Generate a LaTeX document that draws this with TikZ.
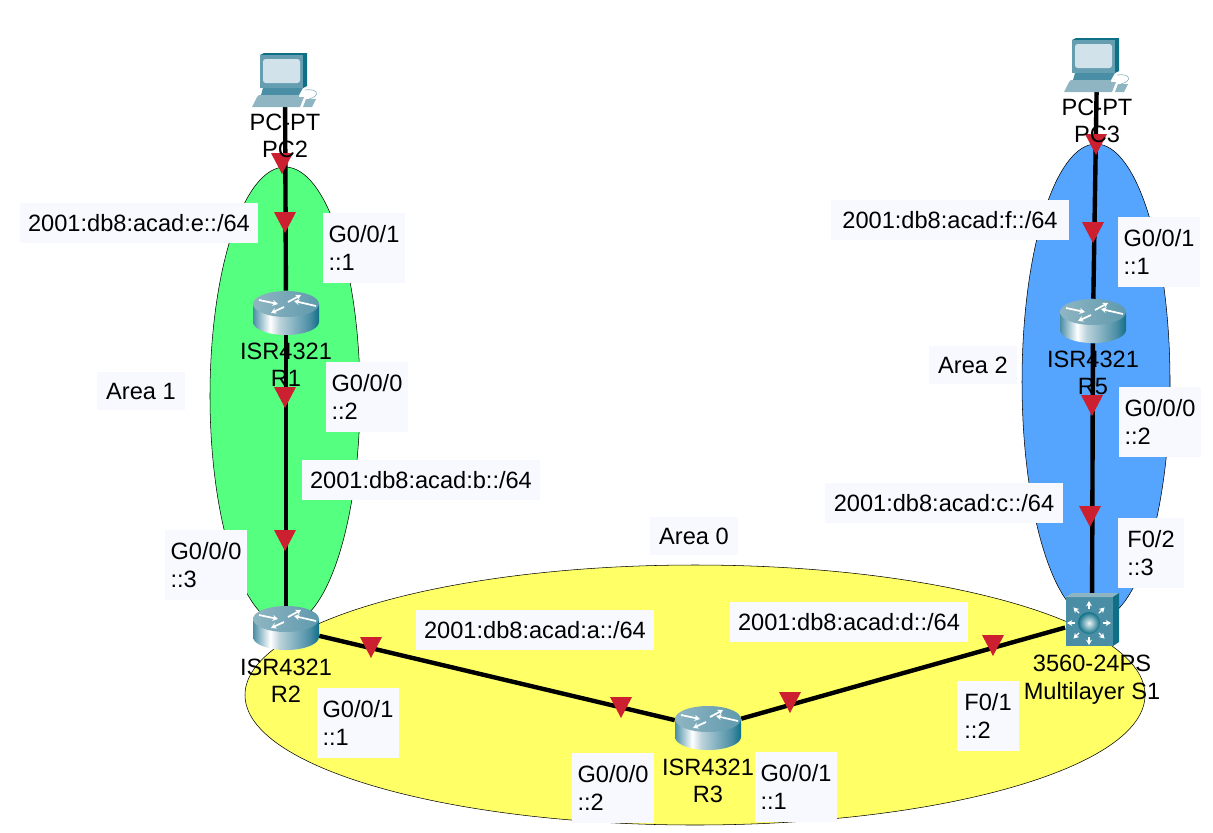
\documentclass[tikz,border=0pt]{standalone}
\usepackage{fontspec}
\setmainfont{Liberation Sans}
\usetikzlibrary{positioning, arrows.meta, backgrounds}
\definecolor{areagreen}{HTML}{55FF80}
\definecolor{areablue}{HTML}{55A5FF}
\definecolor{areayellow}{HTML}{FFFF66}
\definecolor{boxfill}{HTML}{F8F9FF}
\definecolor{pinred}{HTML}{CC2030}
\definecolor{tealdark}{HTML}{0E6F87}
\definecolor{tealmid}{HTML}{4A8EA5}
\definecolor{teallight}{HTML}{8FB5C2}
\definecolor{screenblue}{HTML}{D2E2EA}
\pgfdeclarehorizontalshading{routerbody}{100bp}{color(0bp)=(tealmid); color(25bp)=(tealmid); color(38bp)=(white); color(45bp)=(teallight!60!white); color(68bp)=(tealmid); color(75bp)=(tealdark); color(100bp)=(tealdark)}
\tikzset{
	txt/.style={font=\fontsize{17.7}{20.5}\selectfont, text=black, inner sep=0pt, align=center},
	netbox/.style={txt, fill=boxfill, minimum width=178pt, minimum height=30pt},
	portbox/.style={txt, fill=boxfill, align=left, minimum width=61pt, minimum height=52pt},
	areabox/.style={txt, fill=boxfill, minimum width=66pt, minimum height=29pt},
	devrouter/.style={minimum width=49.5pt, minimum height=33pt, inner sep=0pt},
	devswitch/.style={minimum width=40pt, minimum height=40pt, inner sep=0pt},
	devpc/.style={minimum width=49.5pt, minimum height=40pt, inner sep=0pt},
	link/.style={line width=3.3pt, black},
	whitearrow/.style={white, line width=1.3pt, -{Stealth[length=4pt,width=4.5pt]}},
	routericon/.pic={
		\path[shading=routerbody]
			(-33,-9) -- (-33,9) arc[start angle=180, end angle=0, x radius=33, y radius=13] -- (33,-9) -- cycle;
		\path[left color=teallight, right color=tealmid!70!teallight] (0,-9) ellipse [x radius=33, y radius=13];
		\draw[whitearrow] (-27,-13) -- (-8,-9);
		\draw[whitearrow] (30,-7) -- (8,-12);
		\draw[whitearrow] (2,-11) -- (15,-18);
		\draw[whitearrow] (-2,-6) -- (-15,0);
	},
	switchicon/.pic={
		\fill[tealmid] (-26,-23) rectangle (21,26);
		\fill[teallight] (-26,-23) -- (-20,-27) -- (27,-27) -- (21,-23) -- cycle;
		\fill[tealdark] (21,-23) -- (27,-27) -- (27,22) -- (21,26) -- cycle;
		\shade[inner color=white!85!teallight, outer color=tealdark] (-3,3) circle [radius=11];
		\foreach \ang in {0,45,...,315}
			\draw[whitearrow, line width=1pt] ([shift={(-3,3)}]\ang:14) -- ([shift={(-3,3)}]\ang:22);
	},
	pcicon/.pic={
		\fill[tealdark] (-25,-25) -- (-21,-27) -- (22,-27) -- (22,6) -- (18,8) -- cycle;
		\fill[tealmid!60!teallight] (-25,-25) rectangle (18,8);
		\fill[screenblue, rounded corners=2pt] (-22,-21) rectangle (15,3);
		\fill[tealmid] (-22,8) -- (18,8) -- (14,15) -- (-24,15) -- cycle;
		\fill[teallight] (-26,15) -- (14,15) -- (14,17) -- (-28,17) -- cycle;
		\fill[teallight] (-28,17) -- (19,17) -- (15,27) -- (-33,27) -- cycle;
		\fill[teallight] (21,19) -- (31,19) -- (27,27) -- (18,27) -- cycle;
		\draw[teallight, line width=.5pt] (20,10) .. controls (33,8) and (36,16) .. (24,19);
	},
}
\begin{document}
\begin{tikzpicture}[x=0.75pt, y=-0.75pt]
	\useasboundingbox (0,0) rectangle (1213,832);
	% devices
	\node[devpc] (PC2) at (285,80) {};
	\node[devpc] (PC3) at (1097,65) {};
	\node[devrouter] (R1) at (286,313) {};
	\node[devrouter] (R2) at (286,628) {};
	\node[devrouter] (R3) at (708,728) {};
	\node[devrouter] (R5) at (1093,321) {};
	\node[devswitch] (S1) at (1092,620) {};
	\foreach \dev in {R1,R2,R3,R5}
		\pic at (\dev) {routericon};
	\pic at (S1) {switchicon};
	\pic at (PC2) {pcicon};
	\pic at (PC3) {pcicon};
	\begin{scope}[on background layer]
		\draw[fill=areagreen, thin] (285,396) ellipse [x radius=75, y radius=229];
		\draw[fill=areablue, thin] (1096,382) ellipse [x radius=74, y radius=238];
		\draw[fill=areayellow, thin] (695,695) ellipse [x radius=450, y radius=130];
		\foreach \from/\to in {PC2/R1, R1/R2, R2/R3, R3/S1, S1/R5, R5/PC3}
			\draw[link] (\from) -- (\to);
		% direction marks
		\foreach \x/\y in {282/163, 285/222, 285/397, 285/540, 371/647, 621/707, 790/702, 993/645, 1096/144, 1093/232, 1092/405, 1090/516}
			\fill[pinred, shift={(\x,\y)}] (-11,-10) -- (11,-10) -- (0,11) -- cycle;
	\end{scope}
	% device names
	\node[txt, below=5pt of PC2] (PC2txt) {PC-PT\\PC2};
	\node[txt, below=5pt of PC3] (PC3txt) {PC-PT\\PC3};
	\node[txt, below=5.5pt of R1] (R1txt) {ISR4321\\R1};
	\node[txt, below=6pt of R2] (R2txt) {ISR4321\\R2};
	\node[txt, below=6pt of R3] (R3txt) {ISR4321\\R3};
	\node[txt, below=5.5pt of R5] (R5txt) {ISR4321\\R5};
	\node[txt, below=6pt of S1] (S1txt) {3560-24PS\\Multilayer S1};
	% networks
	\node[netbox] (nete) at (139,223) {2001:db8:acad:e::/64};
	\node[netbox] (netb) at (421,480) {2001:db8:acad:b::/64};
	\node[netbox] (neta) at (535,630) {2001:db8:acad:a::/64};
	\node[netbox] (netd) at (849,622) {2001:db8:acad:d::/64};
	\node[netbox] (netc) at (944,503) {2001:db8:acad:c::/64};
	\node[netbox] (netf) at (950,220) {2001:db8:acad:f::/64};
	% interfaces
	\node[portbox] (r1g1) at (364,248) {G0/0/1\\::1};
	\node[portbox] (r1g0) at (367,397) {G0/0/0\\::2};
	\node[portbox] (r2g0) at (206,565) {G0/0/0\\::3};
	\node[portbox] (r2g1) at (358,723) {G0/0/1\\::1};
	\node[portbox] (r3g0) at (613,788) {G0/0/0\\::2};
	\node[portbox] (r3g1) at (796,787) {G0/0/1\\::1};
	\node[portbox, minimum width=46pt] (s1f1) at (988,716) {F0/1\\::2};
	\node[portbox, minimum width=49pt] (s1f2) at (1151,553) {F0/2\\::3};
	\node[portbox] (r5g0) at (1160,422) {G0/0/0\\::2};
	\node[portbox] (r5g1) at (1159,252) {G0/0/1\\::1};
	% areas
	\node[areabox] (area1) at (141,391) {Area 1};
	\node[areabox] (area2) at (973,365) {Area 2};
	\node[areabox] (area0) at (694,536) {Area 0};
\end{tikzpicture}
\end{document}
